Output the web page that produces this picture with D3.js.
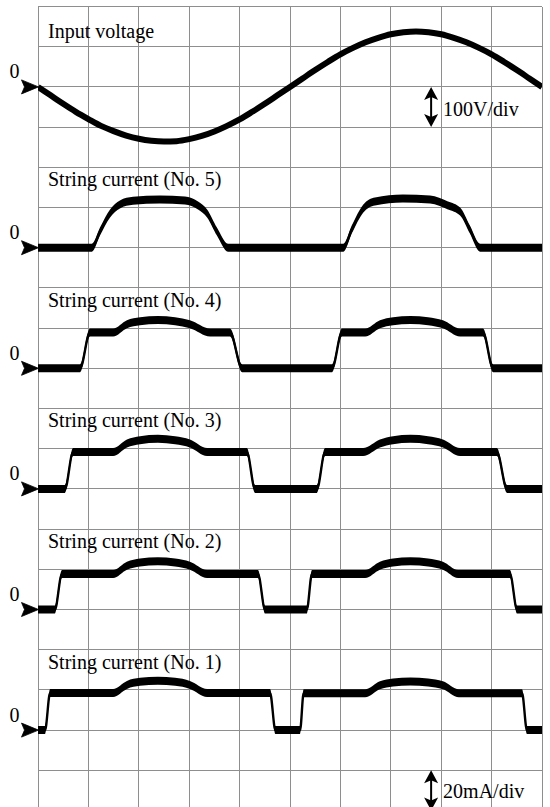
<!DOCTYPE html>
<html>
<head>
<meta charset="utf-8">
<script src="https://cdn.jsdelivr.net/npm/d3@7"></script>
<style>
  html, body { margin: 0; padding: 0; background: #fff; }
  svg { display: block; }
  text { font-family: "Liberation Serif", "Times New Roman", serif; font-size: 20px; fill: #000; }
</style>
</head>
<body>
<script>
// ---------------- DATA ----------------
// time in ms (2 ms/div, 10 div), voltage in V (100 V/div), currents in mA (20 mA/div)
const timeTicks = [0, 2, 4, 6, 8, 10, 12, 14, 16, 18, 20];
const divisionTicks = [0, 1, 2, 3, 4, 5, 6, 7, 8, 9, 10, 11, 12, 13, 14, 15, 16, 17, 18, 19, 20];

const traceLabels = ["Input voltage", "String current (No. 5)", "String current (No. 4)",
                     "String current (No. 3)", "String current (No. 2)", "String current (No. 1)"];
const zeroLabel = "0";
const voltageScaleLabel = "100V/div";
const currentScaleLabel = "20mA/div";

const voltageTime = [0, 0.5, 1, 1.5, 2, 2.5, 3, 3.5, 4, 4.5, 5, 5.5, 6, 6.5, 7, 7.5, 8, 8.5, 9, 9.5,
                     10, 10.5, 11, 11.5, 12, 12.5, 13, 13.5, 14, 14.5, 15, 15.5, 16, 16.5, 17, 17.5, 18, 18.5, 19, 19.5, 20];
const voltageValues = [0, -21, -42, -62, -80, -97, -110, -121, -129, -134, -136, -135, -130, -122, -111, -97, -81, -62, -42, -21,
                       0, 21, 42, 62, 81, 97, 111, 122, 131, 136, 138, 136, 131, 122, 111, 97, 81, 62, 42, 21, 0];

const string5 = [[0,0],[2.14,0],[2.46,8],[2.86,17],[3.25,21.5],[3.77,23.3],[4.84,24],[5.83,23.5],[6.35,21],[6.71,17],[7.10,8],[7.54,0],
                 [12.12,0],[12.45,9],[12.91,19.5],[13.37,23],[14.48,24.5],[15.56,24],[16.27,21],[16.75,18],[17.14,9],[17.54,0],[20,0]];
const string4 = [[0,0],[1.67,0],[2.06,17.8],[2.98,17.8],[3.53,21.9],[4.05,23.4],[4.76,24],[5.44,23.4],[6.03,21.9],[6.83,17.8],[7.62,17.8],[8.10,0],
                 [11.67,0],[12.06,17.8],[12.98,17.8],[13.57,21.9],[14.09,23.4],[14.78,24],[15.48,23.4],[16.07,21.9],[16.75,17.8],[17.66,17.8],[18.06,0],[20,0]];
const string3 = [[0,0],[1.07,0],[1.39,18.3],[2.98,18.3],[3.53,22.6],[4.05,24.2],[4.76,24.9],[5.44,24.2],[6.03,22.6],[6.71,18.3],[8.29,18.3],[8.61,0],
                 [11.07,0],[11.39,18.3],[12.90,18.3],[13.57,22.6],[14.09,24.2],[14.78,24.9],[15.48,24.2],[16.07,22.6],[16.75,18.3],[18.21,18.3],[18.61,0],[20,0]];
const string2 = [[0,0],[0.67,0],[0.95,17.7],[2.98,17.7],[3.53,21.8],[4.05,23.4],[4.76,24],[5.44,23.4],[6.03,21.8],[6.71,17.7],[8.73,17.7],[9.01,0],
                 [10.67,0],[10.87,17.7],[12.98,17.7],[13.57,21.8],[14.09,23.4],[14.78,24],[15.48,23.4],[16.07,21.8],[16.67,17.7],[18.73,17.7],[19.01,0],[20,0]];
const string1 = [[0,0],[0.28,0],[0.48,18.5],[2.98,18.5],[3.53,22.5],[4.05,24],[4.76,24.5],[5.44,24],[6.03,22.5],[6.71,18.5],[9.21,18.5],[9.42,0],
                 [10.40,0],[10.54,18.3],[12.98,18.3],[13.57,22.3],[14.09,23.7],[14.78,24.2],[15.48,23.7],[16.07,22.3],[16.70,18.3],[19.21,18.3],[19.40,0],[20,0]];

const currentSeries = [string5, string4, string3, string2, string1];
const currentZeroDivs = [6, 9, 12, 15, 18];
const voltageZeroDiv = 2;
const voltsPerDiv = 100;
const mAPerDiv = 20;

// ---------------- LAYOUT ----------------
const W = 550, H = 807;
const svg = d3.select("body").append("svg").attr("width", W).attr("height", H);

const x = d3.scaleLinear().domain([0, 20]).range([38, 542]);
const rows = d3.scaleLinear().domain([0, 20]).range([6.5, 810.5]);

// grid
const grid = svg.append("g").attr("stroke", "#8e8e8e").attr("stroke-width", 1).attr("shape-rendering", "crispEdges");
grid.selectAll("line.v").data(timeTicks).join("line").attr("class", "v")
  .attr("x1", d => x(d)).attr("x2", d => x(d)).attr("y1", rows(0)).attr("y2", rows(20));
grid.selectAll("line.h").data(divisionTicks).join("line").attr("class", "h")
  .attr("x1", x(0)).attr("x2", x(20)).attr("y1", d => rows(d)).attr("y2", d => rows(d));

svg.append("clipPath").attr("id", "plotclip").append("rect")
  .attr("x", x(0)).attr("y", rows(0) - 10).attr("width", x(20) - x(0)).attr("height", rows(20) - rows(0) + 20);
const traces = svg.append("g").attr("clip-path", "url(#plotclip)");

// voltage trace
const yV = d3.scaleLinear().domain([0, voltsPerDiv]).range([rows(voltageZeroDiv), rows(voltageZeroDiv - 1)]);
const vData = voltageTime.map((t, i) => [t, voltageValues[i]]);
traces.append("path").datum(vData)
  .attr("fill", "none").attr("stroke", "#000").attr("stroke-width", 6).attr("stroke-linejoin", "round")
  .attr("d", d3.line().x(d => x(d[0])).y(d => yV(d[1])).curve(d3.curveMonotoneX));

// current traces (noisy band)
const bandHalf = 4;
currentSeries.forEach((series, i) => {
  const z = currentZeroDivs[i];
  const y = d3.scaleLinear().domain([0, mAPerDiv]).range([rows(z), rows(z - 1)]);
  traces.append("path").datum(series)
    .attr("fill", "#000").attr("stroke", "none")
    .attr("d", d3.area().x(d => x(d[0])).y0(d => y(d[1]) - bandHalf).y1(d => y(d[1]) + bandHalf).curve(d3.curveMonotoneX));
  traces.append("path").datum(series)
    .attr("fill", "none").attr("stroke", "#000").attr("stroke-width", 2.4)
    .attr("d", d3.line().x(d => x(d[0])).y(d => y(d[1])).curve(d3.curveMonotoneX));
});

// labels
const zeroDivs = [voltageZeroDiv].concat(currentZeroDivs);
svg.selectAll("text.lab").data(traceLabels).join("text").attr("class", "lab")
  .attr("x", 48)
  .attr("y", (d, i) => i === 0 ? rows(zeroDivs[i]) - 49 : rows(zeroDivs[i]) - 61.5)
  .text(d => d);

// zero markers
svg.selectAll("text.zero").data(zeroDivs).join("text").attr("class", "zero")
  .attr("x", 9.5).attr("y", d => rows(d) - 8.5).text(zeroLabel);
svg.selectAll("path.arrow").data(zeroDivs).join("path").attr("class", "arrow")
  .attr("fill", "#000").attr("stroke", "#000").attr("stroke-width", 0.8).attr("stroke-linejoin", "miter")
  .attr("d", d => {
    const yy = rows(d), tip = x(0) + 0.5;
    return `M${tip},${yy} L${tip - 17},${yy - 7} L${tip - 14},${yy} L${tip - 17},${yy + 7} Z`;
  });

// scale indicators
function scaleArrow(cx, yTop, yBot) {
  const g = svg.append("g").attr("fill", "#000");
  g.append("path").attr("d", `M${cx},${yTop} L${cx + 7},${yTop + 13} L${cx},${yTop + 10} L${cx - 7},${yTop + 13} Z`);
  g.append("path").attr("d", `M${cx},${yBot} L${cx + 7},${yBot - 13} L${cx},${yBot - 10} L${cx - 7},${yBot - 13} Z`);
  g.append("line").attr("x1", cx).attr("x2", cx).attr("y1", yTop + 9).attr("y2", yBot - 9)
    .attr("stroke", "#000").attr("stroke-width", 2);
}
const scaleX = x(15.6);
scaleArrow(scaleX, rows(2), rows(3));
svg.append("text").attr("x", scaleX + 12).attr("y", rows(2) + 28.7).text(voltageScaleLabel);
scaleArrow(scaleX, rows(19), rows(20));
svg.append("text").attr("x", scaleX + 12).attr("y", rows(19) + 27.5).text(currentScaleLabel);
</script>
</body>
</html>
